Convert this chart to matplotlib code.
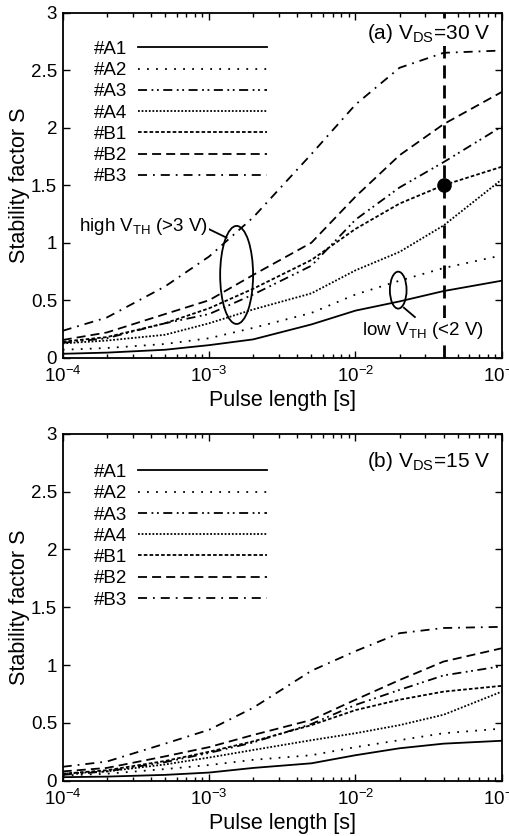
import matplotlib
matplotlib.use('Agg')
import matplotlib.pyplot as plt
from matplotlib.patches import Ellipse
from matplotlib.ticker import LogLocator, NullFormatter

plt.rcParams['font.family'] = ['Liberation Sans', 'DejaVu Sans']
plt.rcParams['mathtext.fontset'] = 'custom'
plt.rcParams['mathtext.rm'] = 'Liberation Sans'
plt.rcParams['mathtext.it'] = 'Liberation Sans:italic'
plt.rcParams['mathtext.bf'] = 'Liberation Sans:bold'
plt.rcParams['axes.unicode_minus'] = False

# ---------------- data ----------------
pulse_length = [1e-4, 2e-4, 5e-4, 1e-3, 2e-3, 5e-3, 1e-2, 2e-2, 4e-2, 1e-1]
devices = ['#A1', '#A2', '#A3', '#A4', '#B1', '#B2', '#B3']

# (a) VDS = 30 V
s30_A1 = [0.035, 0.045, 0.07, 0.11, 0.16, 0.29, 0.41, 0.49, 0.58, 0.67]
s30_A2 = [0.07, 0.085, 0.12, 0.17, 0.26, 0.39, 0.55, 0.67, 0.78, 0.89]
s30_A3 = [0.13, 0.17, 0.30, 0.38, 0.55, 0.80, 1.20, 1.48, 1.70, 2.01]
s30_A4 = [0.125, 0.15, 0.20, 0.30, 0.42, 0.56, 0.76, 0.92, 1.15, 1.55]
s30_B1 = [0.14, 0.18, 0.30, 0.43, 0.60, 0.85, 1.12, 1.34, 1.50, 1.66]
s30_B2 = [0.155, 0.22, 0.38, 0.50, 0.72, 1.00, 1.40, 1.76, 2.03, 2.31]
s30_B3 = [0.235, 0.35, 0.62, 0.88, 1.22, 1.77, 2.20, 2.52, 2.65, 2.67]

# (b) VDS = 15 V
s15_A1 = [0.03, 0.035, 0.05, 0.07, 0.11, 0.15, 0.22, 0.28, 0.32, 0.345]
s15_A2 = [0.045, 0.06, 0.10, 0.135, 0.18, 0.22, 0.29, 0.35, 0.41, 0.45]
s15_A3 = [0.05, 0.08, 0.16, 0.24, 0.33, 0.49, 0.655, 0.785, 0.91, 0.99]
s15_A4 = [0.06, 0.08, 0.14, 0.20, 0.265, 0.35, 0.41, 0.48, 0.57, 0.77]
s15_B1 = [0.06, 0.09, 0.17, 0.25, 0.34, 0.48, 0.61, 0.70, 0.77, 0.82]
s15_B2 = [0.08, 0.11, 0.21, 0.29, 0.395, 0.525, 0.70, 0.87, 1.03, 1.145]
s15_B3 = [0.12, 0.165, 0.32, 0.44, 0.63, 0.95, 1.12, 1.275, 1.32, 1.33]

series_30 = [s30_A1, s30_A2, s30_A3, s30_A4, s30_B1, s30_B2, s30_B3]
series_15 = [s15_A1, s15_A2, s15_A3, s15_A4, s15_B1, s15_B2, s15_B3]

marker_x = 4e-2
marker_y = 1.5

y_ticks = [0, 0.5, 1, 1.5, 2, 2.5, 3]
y_tick_labels = ['0', '0.5', '1', '1.5', '2', '2.5', '3']

# ---------------- styles ----------------
line_styles = ['-', (0, (1, 4)), (0, (5, 2.5, 1, 2, 1, 2.5)), (0, (1, 1)),
               (0, (2, 1.2)), (0, (5, 2.8)), (0, (5, 3.3, 1, 3.3))]
LW = 1.3

fig = plt.figure(figsize=(5.10, 8.36), dpi=100)
ax_a = fig.add_axes([0.123, 0.572, 0.861, 0.413])
ax_b = fig.add_axes([0.123, 0.0662, 0.861, 0.415])


def style_axes(ax):
    ax.set_xscale('log')
    ax.set_xlim(1e-4, 1e-1)
    ax.set_ylim(0, 3)
    ax.set_yticks(y_ticks)
    ax.set_yticklabels(y_tick_labels)
    ax.xaxis.set_major_locator(LogLocator(base=10, numticks=10))
    ax.xaxis.set_minor_locator(LogLocator(base=10, subs=range(2, 10), numticks=10))
    ax.xaxis.set_minor_formatter(NullFormatter())
    ax.tick_params(which='both', direction='in', top=True, right=True,
                   labelsize=13.5, width=1.0)
    ax.tick_params(which='major', length=5)
    ax.tick_params(which='minor', length=3)
    ax.tick_params(axis='y', which='major', pad=4)
    ax.tick_params(axis='x', which='major', pad=6)
    for sp in ax.spines.values():
        sp.set_linewidth(1.3)
    ax.set_xlabel('Pulse length [s]', fontsize=15.5, labelpad=3)
    ax.set_ylabel('Stability factor S', fontsize=15.5, labelpad=1)


for ax, series, title, ty, ly in [(ax_a, series_30, r'(a) V$_{\mathrm{DS}}$=30 V', 0.94, 0.918),
                                  (ax_b, series_15, r'(b) V$_{\mathrm{DS}}$=15 V', 0.921, 0.913)]:
    for name, vals, ls in zip(devices, series, line_styles):
        ax.plot(pulse_length, vals, color='black', lw=LW, linestyle=ls, label=name)
    style_axes(ax)
    ax.legend(loc='upper left', bbox_to_anchor=(0.07, ly), frameon=False,
              markerfirst=False, fontsize=13.5, handlelength=6.9,
              handletextpad=0.6, labelspacing=0.22, borderpad=0, borderaxespad=0)
    ax.text(0.973, ty, title, transform=ax.transAxes, zorder=10,
            ha='right', va='center', fontsize=15,
            bbox=dict(facecolor='white', edgecolor='none', pad=1))

# vertical marker line and point on panel (a)
ax_a.axvline(marker_x, color='black', lw=2.0, linestyle=(0, (4.7, 2.5)), zorder=3)
ax_a.plot([marker_x], [marker_y], 'o', color='black', markersize=9.5, zorder=4)

# annotations on panel (a)
ax_a.add_patch(Ellipse((0.396, 0.24), 0.075, 0.284, transform=ax_a.transAxes,
                       fill=False, edgecolor='black', lw=1.3))
ax_a.plot([0.334, 0.373], [0.372, 0.348], transform=ax_a.transAxes,
          color='black', lw=1.3)
ax_a.text(0.331, 0.379, r'high V$_{\mathrm{TH}}$ (>3 V)', transform=ax_a.transAxes,
          ha='right', va='center', fontsize=13.5, zorder=10,
          bbox=dict(facecolor='white', edgecolor='none', pad=0.5))

ax_a.add_patch(Ellipse((0.764, 0.196), 0.038, 0.107, transform=ax_a.transAxes,
                       fill=False, edgecolor='black', lw=1.3))
ax_a.plot([0.777, 0.802], [0.145, 0.118], transform=ax_a.transAxes,
          color='black', lw=1.3)
ax_a.text(0.821, 0.08, r'low V$_{\mathrm{TH}}$ (<2 V)', transform=ax_a.transAxes,
          ha='center', va='center', fontsize=13.5, zorder=10,
          bbox=dict(facecolor='white', edgecolor='none', pad=1))

fig.savefig('out.png', dpi=100)
